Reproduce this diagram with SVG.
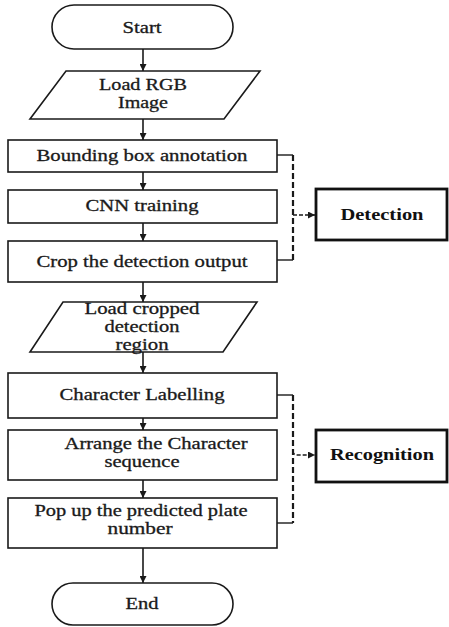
<svg xmlns="http://www.w3.org/2000/svg" width="449" height="627" viewBox="0 0 449 627">
  <style>
    .shape { fill: #fff; stroke: #1a1a1a; stroke-width: 1.6; }
    .group { fill: #fff; stroke: #111; stroke-width: 2.8; }
    .lbl { font-family: "Liberation Serif", "Times New Roman", serif; font-size: 16px; fill: #1a1a1a; stroke: #1a1a1a; stroke-width: 0.3; text-anchor: middle; }
    .glbl { font-family: "Liberation Serif", "Times New Roman", serif; font-size: 16px; font-weight: bold; fill: #111; text-anchor: middle; }
    .flow { stroke: #1a1a1a; stroke-width: 1.6; fill: none; marker-end: url(#head); }
    .tick { stroke: #1a1a1a; stroke-width: 1.4; fill: none; }
    .dash { stroke: #1a1a1a; stroke-width: 2.2; stroke-dasharray: 6 3; fill: none; }
    .link { stroke: #1a1a1a; stroke-width: 1.6; stroke-dasharray: 4 2; fill: none; marker-end: url(#head); }
  </style>
  <defs>
    <marker id="head" viewBox="0 0 10 10" refX="10" refY="5" markerWidth="7" markerHeight="7" markerUnits="userSpaceOnUse" orient="auto">
      <path d="M0,0 L10,5 L0,10 Z" fill="#1a1a1a"/>
    </marker>
  </defs>

  <rect width="449" height="627" fill="#fff"/>

  <!-- flow connectors -->
  <g id="connectors">
    <line class="flow" x1="143" y1="49" x2="143" y2="71"/>
    <line class="flow" x1="143" y1="119" x2="143" y2="140"/>
    <line class="flow" x1="143" y1="172" x2="143" y2="190"/>
    <line class="flow" x1="143" y1="223" x2="143" y2="241"/>
    <line class="flow" x1="143" y1="282" x2="143" y2="302"/>
    <line class="flow" x1="143" y1="352" x2="143" y2="373"/>
    <line class="flow" x1="143" y1="418" x2="143" y2="430"/>
    <line class="flow" x1="143" y1="480" x2="143" y2="498"/>
    <line class="flow" x1="143" y1="548" x2="143" y2="583"/>

    <!-- detection bracket -->
    <line class="tick" x1="277" y1="155" x2="293" y2="155"/>
    <line class="tick" x1="277" y1="260" x2="293" y2="260"/>
    <line class="dash" x1="293" y1="155" x2="293" y2="260"/>
    <line class="link" x1="293" y1="215" x2="315" y2="215"/>

    <!-- recognition bracket -->
    <line class="tick" x1="277" y1="395" x2="293" y2="395"/>
    <line class="tick" x1="277" y1="523" x2="293" y2="523"/>
    <line class="dash" x1="293" y1="395" x2="293" y2="523"/>
    <path class="link" d="M293,451 Q293,455 297,455 L315,455"/>
  </g>

  <g id="start">
    <rect class="shape" x="52" y="5" width="181" height="44" rx="22"/>
    <text class="lbl" x="142" y="33" textLength="39" lengthAdjust="spacingAndGlyphs">Start</text>
  </g>

  <g id="load-rgb">
    <polygon class="shape" points="66,71 260,71 224,119 30,119"/>
    <text class="lbl" x="143" y="90" textLength="88" lengthAdjust="spacingAndGlyphs">Load RGB</text>
    <text class="lbl" x="143" y="108" textLength="50" lengthAdjust="spacingAndGlyphs">Image</text>
  </g>

  <g id="bbox-annotation">
    <rect class="shape" x="8" y="140" width="269" height="32"/>
    <text class="lbl" x="142" y="161" textLength="211" lengthAdjust="spacingAndGlyphs">Bounding box annotation</text>
  </g>

  <g id="cnn-training">
    <rect class="shape" x="8" y="190" width="269" height="33"/>
    <text class="lbl" x="142" y="211" textLength="113" lengthAdjust="spacingAndGlyphs">CNN training</text>
  </g>

  <g id="crop-output">
    <rect class="shape" x="8" y="241" width="269" height="41"/>
    <text class="lbl" x="142" y="267" textLength="211" lengthAdjust="spacingAndGlyphs">Crop the detection output</text>
  </g>

  <g id="load-cropped">
    <polygon class="shape" points="63,302 257,302 223,352 30,352"/>
    <text class="lbl" x="142" y="314" textLength="115" lengthAdjust="spacingAndGlyphs">Load cropped</text>
    <text class="lbl" x="142" y="332" textLength="75" lengthAdjust="spacingAndGlyphs">detection</text>
    <text class="lbl" x="142" y="350" textLength="53" lengthAdjust="spacingAndGlyphs">region</text>
  </g>

  <g id="char-labelling">
    <rect class="shape" x="8" y="373" width="269" height="45"/>
    <text class="lbl" x="142" y="400" textLength="165" lengthAdjust="spacingAndGlyphs">Character Labelling</text>
  </g>

  <g id="arrange-sequence">
    <rect class="shape" x="8" y="430" width="269" height="50"/>
    <text class="lbl" x="156" y="449" textLength="183" lengthAdjust="spacingAndGlyphs">Arrange the Character</text>
    <text class="lbl" x="142" y="467" textLength="75" lengthAdjust="spacingAndGlyphs">sequence</text>
  </g>

  <g id="pop-up-plate">
    <rect class="shape" x="8" y="498" width="269" height="50"/>
    <text class="lbl" x="141" y="516" textLength="213" lengthAdjust="spacingAndGlyphs">Pop up the predicted plate</text>
    <text class="lbl" x="140" y="534" textLength="65" lengthAdjust="spacingAndGlyphs">number</text>
  </g>

  <g id="end">
    <rect class="shape" x="52" y="583" width="181" height="42" rx="21"/>
    <text class="lbl" x="142" y="609" textLength="33" lengthAdjust="spacingAndGlyphs">End</text>
  </g>

  <g id="detection">
    <rect class="group" x="316" y="189" width="131" height="51"/>
    <text class="glbl" x="382" y="220" textLength="83" lengthAdjust="spacingAndGlyphs">Detection</text>
  </g>

  <g id="recognition">
    <rect class="group" x="316" y="430" width="131" height="52"/>
    <text class="glbl" x="382" y="460" textLength="104" lengthAdjust="spacingAndGlyphs">Recognition</text>
  </g>
</svg>
